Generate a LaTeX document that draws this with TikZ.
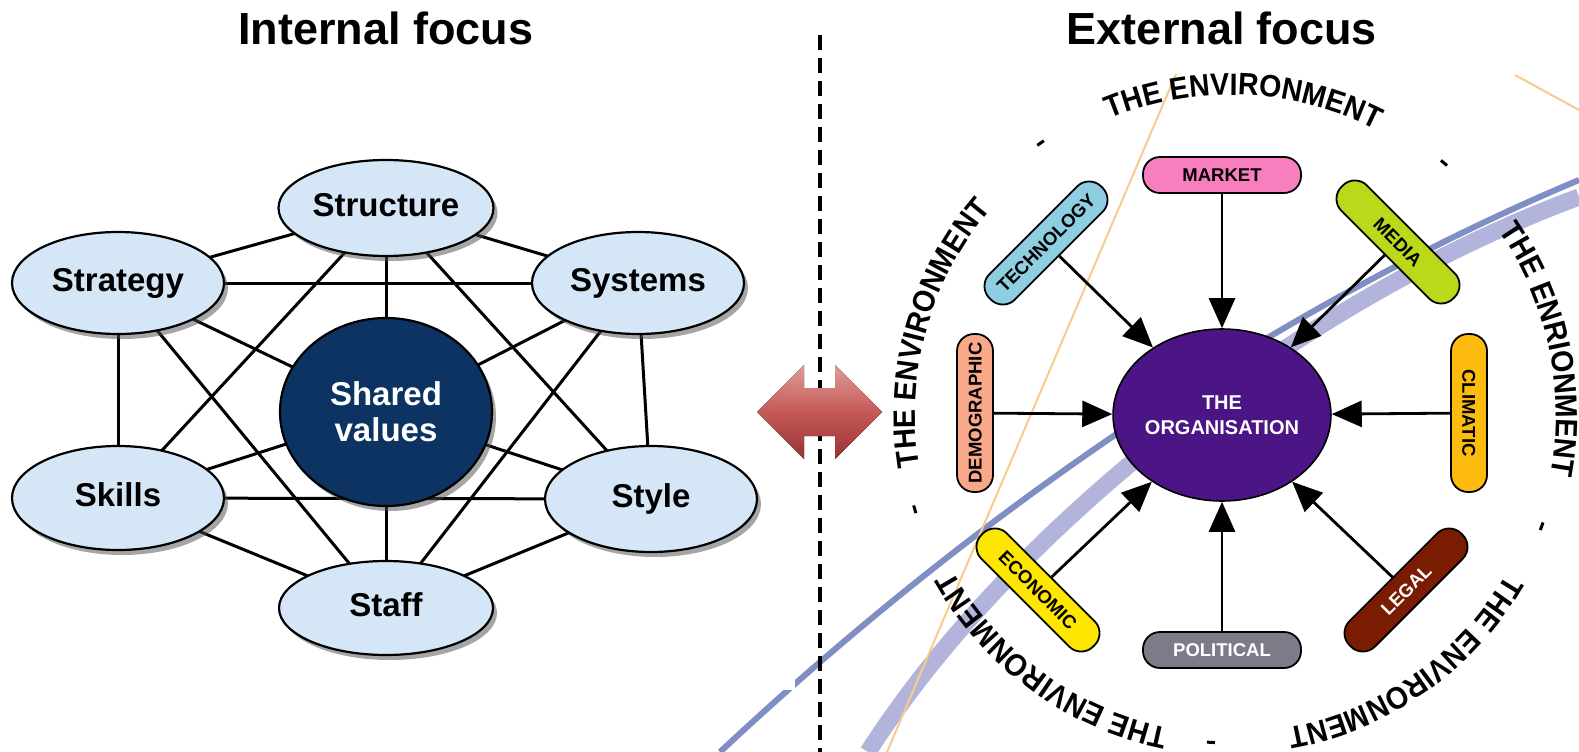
\documentclass[tikz,border=0pt]{standalone}
\usepackage{fontspec}
\setmainfont{Liberation Sans}
\newfontfamily\ringfam{Liberation Sans Bold}[FakeStretch=0.92]
\usetikzlibrary{shapes.geometric,arrows.meta,decorations.text,shadows,calc}

\definecolor{ovalfill}{HTML}{D5E7F7}
\definecolor{sharedfill}{HTML}{0C3361}
\definecolor{swooshline}{HTML}{7F8FC4}
\definecolor{swooshband}{HTML}{B2B4DC}
\definecolor{sandline}{HTML}{F8CB8C}
\definecolor{orgfill}{HTML}{4B1585}
\definecolor{mktfill}{HTML}{F77FBE}
\definecolor{techfill}{HTML}{8FCDE0}
\definecolor{mediafill}{HTML}{BCD81A}
\definecolor{demofill}{HTML}{F9A98A}
\definecolor{climfill}{HTML}{FDBB10}
\definecolor{econfill}{HTML}{FDE600}
\definecolor{legalfill}{HTML}{7A1C02}
\definecolor{politfill}{HTML}{7D7B88}
\definecolor{arrtop}{HTML}{DE9C9A}
\definecolor{arrmid}{HTML}{C45A57}
\definecolor{arrbot}{HTML}{963232}

\newcommand\titlefont{\fontsize{45}{50}\selectfont\bfseries}
\newcommand\ovalfont{\fontsize{33}{36}\selectfont\bfseries}
\newcommand\pillfont{\fontsize{18.5}{20}\selectfont\bfseries}
\newcommand\orgfont{\fontsize{20}{25}\selectfont\bfseries}
\newcommand\ringfont{\fontsize{31}{32}\ringfam}

\pgfdeclarelayer{bg}
\pgfdeclarelayer{links}
\pgfsetlayers{bg,links,main}

\tikzset{
  ovalbase/.style={ellipse, draw=black, line width=2.2pt, fill=ovalfill, inner sep=0pt,
    minimum width=212pt, minimum height=102pt, font=\ovalfont,
    drop shadow={shadow xshift=4pt, shadow yshift=-5pt, fill=black!70, opacity=0.5}},
  oval/.style={ovalbase, text height=23.8pt, text depth=6.6pt},
  link/.style={line width=3pt, draw=black},
  pill/.style={rectangle, rounded corners=17pt, draw=black, line width=1.8pt,
    minimum width=158pt, minimum height=36pt, inner sep=0pt, font=\pillfont,
    text height=13.3pt, text depth=0pt},
  arr/.style={line width=2.8pt, draw=black, -{Triangle[length=30pt,width=26pt]}},
  ringtext/.style={decorate, decoration={text along path, text={|\ringfont|#1}, text align=center}},
  tick/.style={rectangle, fill=black, inner sep=0pt, minimum width=8pt, minimum height=3pt},
  title/.style={font=\titlefont, inner sep=0pt, anchor=base},
}

\begin{document}
\begin{tikzpicture}[x=1pt,y=-1pt]
\useasboundingbox (0,0) rectangle (1579,752);

% background strokes behind the right-hand diagram
\begin{pgfonlayer}{bg}
  \fill[white] (0,0) rectangle (1579,752);
  \coordinate (bandA) at (868,752);
  \coordinate (bandB) at (1579,197);
  \coordinate (lineA) at (720,752);
  \coordinate (lineB) at (1579,180);
  \coordinate (sandA) at (1176,74);
  \coordinate (sandB) at (887,752);
  \coordinate (sandC) at (1515,75);
  \coordinate (sandD) at (1579,110);
  \draw[swooshband, line width=17pt] (bandA) .. controls (1010,530) and (1300,300) .. (bandB);
  \draw[swooshline, line width=6pt] (lineA) .. controls (1000,490) and (1300,297) .. (lineB);
  \draw[sandline, line width=2pt] (sandA) -- (sandB);
  \draw[sandline, line width=2pt] (sandC) -- (sandD);
  \fill[white] (0,145) rectangle (795,690);
\end{pgfonlayer}

% ---------- 7-S model ----------
\node[oval] (structure) at (386,208) [minimum width=215pt, minimum height=96pt] {Structure};
\node[oval] (strategy)  at (118,283) {Strategy};
\node[oval] (systems)   at (638,283) {Systems};
\node[ovalbase, fill=sharedfill, text=white, align=center,
      minimum width=212pt, minimum height=188pt] (shared) at (386,412) {Shared\\values};
\node[oval] (skills)    at (118,498) [minimum height=104pt] {Skills};
\node[oval] (style)     at (651,499) [minimum height=106pt] {Style};
\node[oval] (staff)     at (386,608) [minimum width=214pt, minimum height=94pt] {Staff};

\begin{pgfonlayer}{links}
  \foreach \a/\b in {structure/systems, systems/style, style/staff, staff/skills,
                     skills/strategy, strategy/structure,
                     structure/skills, skills/style, style/structure,
                     strategy/systems, systems/staff, staff/strategy,
                     shared/structure, shared/systems, shared/style, shared/staff,
                     shared/skills, shared/strategy}
    \draw[link] (\a.center) -- (\b.center);
\end{pgfonlayer}

% ---------- titles and divider ----------
\node[title] (tin) at (386,45) {Internal focus};
\node[title] (tex) at (1222,45) {External focus};

\coordinate (dtop) at (820,35);
\coordinate (dbot) at (820,752);
\draw[line width=4.5pt, dash pattern=on 15pt off 8pt] (dtop) -- (dbot);

% double-headed arrow
\fill[top color=arrtop, bottom color=arrbot, middle color=arrmid]
  (757,412) -- (804,365) -- (804,388) -- (835,388) -- (835,365) -- (882,412)
  -- (835,459) -- (835,436) -- (804,436) -- (804,459) -- cycle;

% ---------- environment ring ----------
\coordinate (ring) at (1231,415);
\path[ringtext={THE ENVIRONMENT}]  ($(ring)+(-127.7:320)$) arc[start angle=-127.7, end angle=-47.7, radius=320];
\path[ringtext={THE ENRIONMENT}]   ($(ring)+(-52:325)$)    arc[start angle=-52,    end angle=28,    radius=325];
\path[ringtext={THE ENVIRONMENT}]  ($(ring)+(-204.3:316)$) arc[start angle=-204.3, end angle=-124.3, radius=316];
\path[ringtext={THE ENVIRONMENT}]  ($(ring)+(-274:319)$)   arc[start angle=-274,   end angle=-194,   radius=319];
\path[ringtext={THE ENVIRONMENT}]  ($(ring)+(-345:318)$)   arc[start angle=-345,   end angle=-265,   radius=318];

\node[tick, rotate=35]    (dash1) at ($(ring)+(-125:332)$) {};
\node[tick, rotate=-40.2] (dash2) at ($(ring)+(-49.8:330)$) {};
\node[tick, rotate=250.3] (dash3) at ($(ring)+(-340.3:330)$) {};
\node[tick, rotate=106.6] (dash4) at ($(ring)+(-196.6:330)$) {};
\node[tick, rotate=176.5] (dash5) at ($(ring)+(-266.5:328)$) {};

% ---------- organisation and its environment ----------
\node[ellipse, draw=black, line width=1.6pt, fill=orgfill, text=white, align=center,
      font=\orgfont, minimum width=178pt, minimum height=172pt, inner sep=0pt]
      (org) at (1222,415) {THE\\ORGANISATION};

\node[pill, fill=mktfill]                    (market) at (1222,175) {MARKET};
\node[pill, fill=politfill, text=white]      (polit)  at (1222,650) {POLITICAL};
\node[pill, fill=demofill, rotate=90]        (demo)   at (975,413)  {DEMOGRAPHIC};
\node[pill, fill=climfill, rotate=-90]       (clim)   at (1469,413) {CLIMATIC};
\node[pill, fill=techfill, rotate=45]        (tech)   at (1046,243) {TECHNOLOGY};
\node[pill, fill=mediafill, rotate=-45]      (media)  at (1398,242) {MEDIA};
\node[pill, fill=econfill, rotate=-45]       (econ)   at (1038,590) {ECONOMIC};
\node[pill, fill=legalfill, text=white, rotate=45] (legal) at (1406,590) {LEGAL};

\foreach \s in {market, polit, demo, clim, tech, media, econ, legal}
  \draw[arr] (\s) -- (org);

\end{tikzpicture}
\end{document}
